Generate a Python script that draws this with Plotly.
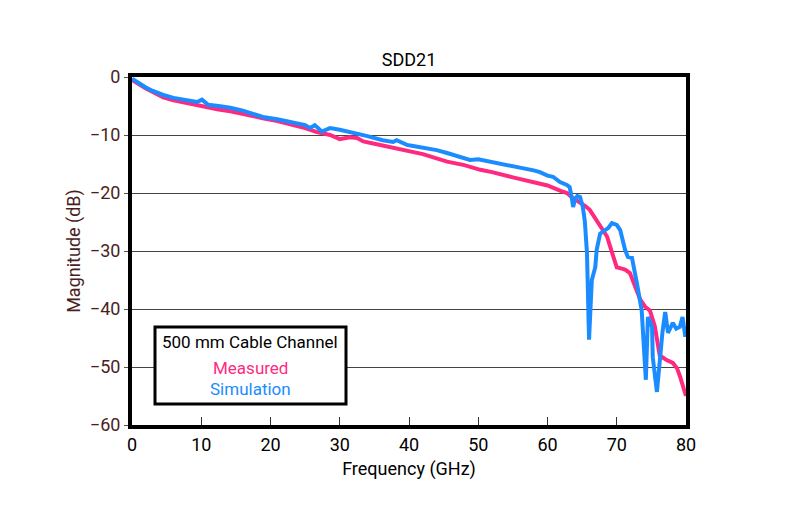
import plotly.graph_objects as go

# ---- data ----
freq_meas = [0, 1, 2, 3, 4.5, 6, 8, 9.4, 11, 12.5, 14.2, 16, 18.9, 21, 23.8, 25, 26.7, 28.6, 30, 31.5,
             32.5, 33.4, 35, 37.3, 39.7, 42, 45.5, 48, 50.3, 52, 55, 57, 58.9, 60, 61.8, 62.8, 63.5,
             64.2, 64.7, 65.5, 66.1, 67.3, 68, 68.6, 69.3, 70, 70.6, 71.2, 71.9, 72.6, 73.4, 74.1,
             74.8, 75.5, 75.9, 76.2, 76.7, 77.2, 78.1, 78.7, 79.1, 79.5, 80]
mag_meas = [-0.5, -1.3, -2.0, -2.6, -3.5, -4.0, -4.5, -4.8, -5.3, -5.6, -5.9, -6.4, -7.1, -7.6, -8.4,
            -8.8, -9.5, -10.0, -10.7, -10.4, -10.5, -11.1, -11.5, -12.1, -12.6, -13.3, -14.6, -15.2,
            -16.0, -16.4, -17.3, -17.8, -18.4, -18.7, -19.6, -20.0, -20.7, -21.2, -21.7, -22.3,
            -22.9, -25.0, -26.2, -27.5, -30.2, -32.8, -33.0, -33.2, -33.8, -36.0, -38.4, -39.6,
            -40.3, -43.0, -45.5, -48.0, -48.4, -48.8, -49.3, -50.2, -51.5, -53.0, -55.0]

freq_sim = [0, 1, 2, 3, 4.5, 6, 8, 9.4, 10.1, 11, 12.5, 14.2, 16, 18.9, 21, 23.8, 25, 25.7, 26.4, 27.4,
            28.6, 30, 32.5, 34, 36.2, 37.7, 38.2, 39.7, 40.6, 42, 44, 45.5, 47, 48.8, 50, 52.7, 54, 56,
            58, 58.9, 60, 60.8, 61.8, 62.8, 63.2, 63.5, 63.7, 64.0, 64.3, 64.7, 65.1, 65.4, 65.7,
            66.0, 66.4, 66.9, 67.1, 67.6, 68.3, 68.8, 69.3, 70, 70.5, 71.2, 71.6, 72.2, 72.9, 73.6,
            74.2, 74.5, 75.1, 75.2, 75.8, 76.2, 76.6, 77, 77.4, 78.1, 78.6, 79.1, 79.5, 79.9, 80]
mag_sim = [-0.3, -1.1, -1.8, -2.4, -3.1, -3.6, -4.1, -4.3, -3.9, -4.8, -5.0, -5.3, -5.8, -6.9, -7.3,
           -7.9, -8.3, -8.8, -8.3, -9.4, -8.8, -9.1, -9.7, -10.2, -10.9, -11.2, -10.9, -11.7, -11.9,
           -12.2, -12.6, -13.1, -13.6, -14.3, -14.2, -14.8, -15.2, -15.7, -16.1, -16.4, -17.0, -17.2,
           -18.1, -18.6, -19.0, -20.8, -22.4, -21.0, -20.5, -20.7, -22.4, -25.0, -30.3, -45.3, -35.0,
           -32.8, -29.8, -27.0, -26.4, -26.0, -25.2, -25.5, -26.4, -29.8, -31.0, -31.2, -35.5, -40.2,
           -52.2, -41.4, -43.1, -48.3, -54.3, -48.3, -44.0, -40.5, -44.1, -42.4, -43.4, -43.1, -41.4,
           -44.8, -43.5]

x_ticks = [0, 10, 20, 30, 40, 50, 60, 70, 80]
y_ticks = [0, -10, -20, -30, -40, -50, -60]
y_tick_text = ["0", "\u221210", "\u221220", "\u221230", "\u221240", "\u221250", "\u221260"]

PINK = "#ff2a80"
BLUE = "#1a8cff"
FONT = "Roboto, Liberation Sans, sans-serif"
MAROON = "#4a1e1e"

fig = go.Figure()
fig.add_trace(go.Scatter(x=freq_meas, y=mag_meas, mode="lines", name="Measured",
                         line=dict(color=PINK, width=4)))
fig.add_trace(go.Scatter(x=freq_sim, y=mag_sim, mode="lines", name="Simulation",
                         line=dict(color=BLUE, width=4)))

fig.update_layout(
    width=788, height=531,
    margin=dict(l=132, r=102, t=77, b=106),
    paper_bgcolor="white", plot_bgcolor="white",
    showlegend=False,
    font=dict(family=FONT, size=17, color="black"),
    title=dict(text="SDD21", x=(132 + 686) / 2 / 788, xanchor="center", y=1 - 60 / 531,
               yanchor="middle", font=dict(family=FONT, size=18, color="black")),
)
fig.update_xaxes(
    range=[0, 80], tickvals=x_ticks, ticktext=[str(v) for v in x_ticks],
    showgrid=False, zeroline=False,
    showline=True, linecolor="black", linewidth=4, mirror=True,
    ticks="inside", ticklen=8, tickcolor="#333", tickwidth=1,
    tickfont=dict(family=FONT, size=18, color="black"),
    title=dict(text="Frequency (GHz)", font=dict(family=FONT, size=18, color="black"), standoff=10),
)
fig.update_yaxes(
    range=[-60, 0], tickvals=y_ticks, ticktext=y_tick_text,
    showgrid=True, gridcolor="#444", gridwidth=1, zeroline=False,
    showline=True, linecolor="black", linewidth=4, mirror=True,
    ticks="outside", ticklen=4, tickcolor="#555", tickwidth=1,
    tickfont=dict(family=FONT, size=18, color=MAROON),
    title=dict(text="Magnitude (dB)", font=dict(family=FONT, size=18, color=MAROON), standoff=6),
)

# legend box
fig.add_shape(type="rect", xref="paper", yref="paper",
              x0=(155 - 132) / 554, x1=(346 - 132) / 554,
              y0=(425 - 404) / 348, y1=(425 - 327) / 348,
              line=dict(color="black", width=3), fillcolor="white", layer="above")
fig.add_annotation(xref="paper", yref="paper", x=(250 - 132) / 554, y=(425 - 342) / 348,
                   xanchor="center", yanchor="middle",
                   text="500 mm Cable Channel", showarrow=False,
                   font=dict(family=FONT, size=17, color="black"))
fig.add_annotation(xref="paper", yref="paper", x=(250 - 132) / 554, y=(425 - 368) / 348,
                   xanchor="center", yanchor="middle",
                   text="Measured", showarrow=False,
                   font=dict(family=FONT, size=17, color=PINK))
fig.add_annotation(xref="paper", yref="paper", x=(250 - 132) / 554, y=(425 - 389) / 348,
                   xanchor="center", yanchor="middle",
                   text="Simulation", showarrow=False,
                   font=dict(family=FONT, size=17, color=BLUE))

fig.write_html("out.html")
